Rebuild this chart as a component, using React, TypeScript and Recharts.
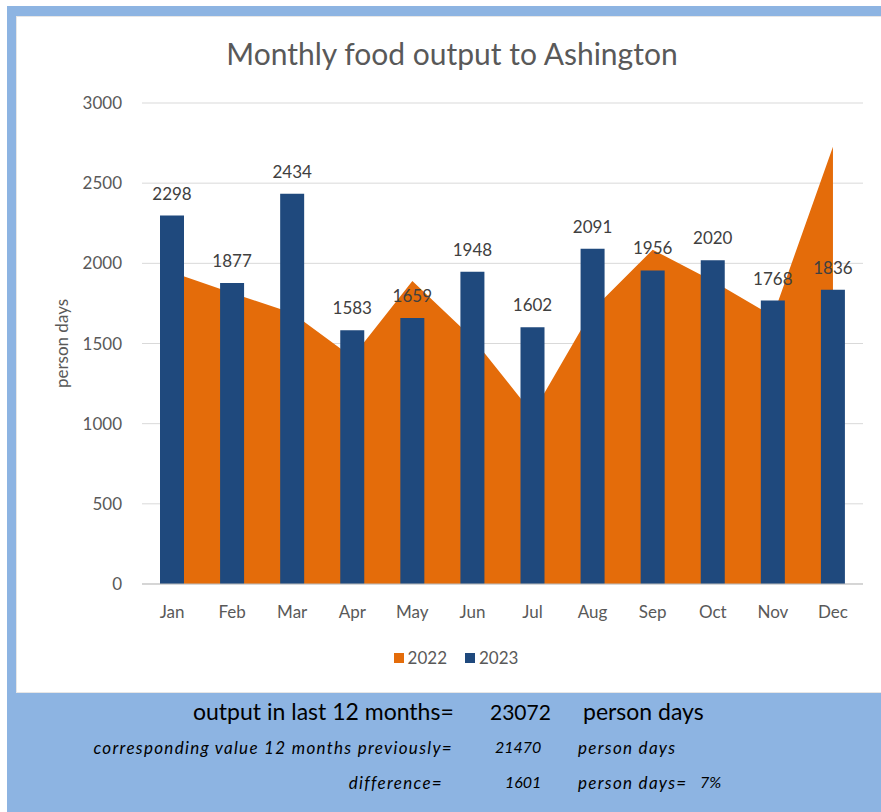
import React from 'react';
import { ComposedChart, Bar, Area, XAxis, YAxis, CartesianGrid, Legend, LabelList } from 'recharts';

const months = ['Jan', 'Feb', 'Mar', 'Apr', 'May', 'Jun', 'Jul', 'Aug', 'Sep', 'Oct', 'Nov', 'Dec'];
const output2022 = [1944, 1815, 1690, 1415, 1890, 1535, 1064, 1710, 2085, 1890, 1670, 2727];
const output2023 = [2298, 1877, 2434, 1583, 1659, 1948, 1602, 2091, 1956, 2020, 1768, 1836];
const yTicks = [0, 500, 1000, 1500, 2000, 2500, 3000];

const data = months.map((m, i) => ({ month: m, y2022: output2022[i], y2023: output2023[i] }));

const ORANGE = '#E46C0A';
const BLUE = '#1F497D';
const GREY = '#595959';
const FONT = 'Lato, "Open Sans", sans-serif';

const LegendContent = () => (
  <div style={{ display: 'flex', justifyContent: 'center', alignItems: 'center', fontFamily: FONT, fontSize: 17, color: GREY, paddingLeft: 14 }}>
    <span style={{ display: 'inline-block', width: 10, height: 10, background: ORANGE, marginRight: 4 }} />
    <span style={{ marginRight: 18 }}>2022</span>
    <span style={{ display: 'inline-block', width: 10, height: 10, background: BLUE, marginRight: 4 }} />
    <span>2023</span>
  </div>
);

const abs = (left: number, top: number, extra: React.CSSProperties = {}): React.CSSProperties => ({
  position: 'absolute', left, top, whiteSpace: 'nowrap', color: '#000', fontFamily: FONT, ...extra,
});

const big = { fontSize: 23 };
const bigNum = { fontSize: 21 };
const small = { fontSize: 17, fontStyle: 'italic' as const, letterSpacing: 1.3 };
const smallNum = { fontSize: 16, fontStyle: 'italic' as const };

export default function App() {
  return (
    <div style={{ position: 'absolute', left: 7, top: 6, width: 874, height: 806, background: '#8DB4E2', overflow: 'hidden' }}>
      <div style={{ position: 'absolute', left: 10, top: 11, width: 864, height: 675, background: '#FFFFFF', boxShadow: '0 0 0 1px #E6E6E6' }}>
        <div style={{ position: 'absolute', left: 0, top: 18, width: 870, textAlign: 'center', fontFamily: FONT, fontSize: 30, color: GREY }}>
          Monthly food output to Ashington
        </div>
        <ComposedChart width={864} height={675} data={data} margin={{ top: 86, right: 18, left: 0, bottom: 78 }}>
          <CartesianGrid vertical={false} stroke="#D9D9D9" />
          <XAxis
            dataKey="month"
            axisLine={{ stroke: '#BFBFBF' }}
            tickLine={false}
            tickSize={0}
            tickMargin={22}
            height={30}
            tick={{ fill: GREY, fontSize: 17, fontFamily: FONT }}
          />
          <YAxis
            width={125}
            domain={[0, 3000]}
            ticks={yTicks}
            axisLine={false}
            tickLine={false}
            tickSize={0}
            tickMargin={20}
            tick={{ fill: GREY, fontSize: 17, fontFamily: FONT }}
            label={{ value: 'person days', angle: -90, position: 'insideLeft', offset: 45, style: { textAnchor: 'middle', fill: GREY, fontSize: 17, fontFamily: FONT } }}
          />
          <Legend layout="horizontal" verticalAlign="middle" content={<LegendContent />} wrapperStyle={{ position: 'absolute', top: 630, left: 0, width: 864 }} />
          <Area dataKey="y2022" name="2022" type="linear" fill={ORANGE} fillOpacity={1} stroke="none" isAnimationActive={false} />
          <Bar dataKey="y2023" name="2023" fill={BLUE} barSize={24} isAnimationActive={false}>
            <LabelList dataKey="y2023" position="top" offset={16} style={{ fill: '#404040', fontSize: 17, fontFamily: FONT }} />
          </Bar>
        </ComposedChart>
      </div>
      <div style={abs(186, 691, big)}>output in last 12 months=</div>
      <div style={abs(483, 693, bigNum)}>23072</div>
      <div style={abs(576, 691, big)}>person days</div>
      <div style={abs(0, 731, { ...small, width: 446, textAlign: 'right' })}>corresponding value 12 months previously=</div>
      <div style={abs(488, 731, smallNum)}>21470</div>
      <div style={abs(571, 731, small)}>person days</div>
      <div style={abs(0, 766, { ...small, width: 436, textAlign: 'right' })}>difference=</div>
      <div style={abs(498, 766, smallNum)}>1601</div>
      <div style={abs(571, 766, small)}>person days=</div>
      <div style={abs(693, 766, smallNum)}>7%</div>
    </div>
  );
}
